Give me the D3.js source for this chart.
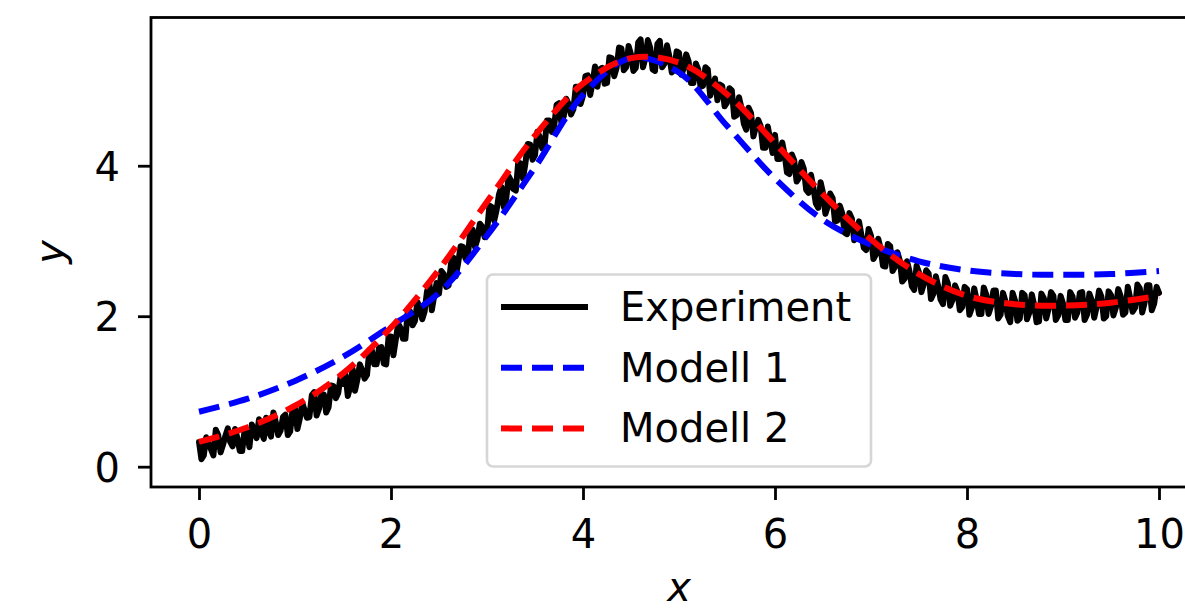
<!DOCTYPE html>
<html lang="en">
<head>
    <meta charset="UTF-8">
    <title>Experiment vs. Modell</title>
    <script src="https://cdn.jsdelivr.net/npm/d3@7"></script>
    <style>
        body {
            margin: 0;
            background: #ffffff;
        }
        svg {
            display: block;
            font-family: 'DejaVu Sans', sans-serif;
        }
    </style>
</head>
<body>
<div id="chart"></div>

<script>
  // sample grid of the measurement: 0 .. 10 in steps of 0.025
  const expStep = 0.025;

  const experimentY = [
    0.33, 0.10, 0.15, 0.39, 0.31, 0.23, 0.15, 0.49, 0.42, 0.19, 0.29, 0.41, 0.51, 0.33, 0.27, 0.50, 0.38, 0.21, 0.21, 0.49,
    0.46, 0.26, 0.56, 0.49, 0.38, 0.63, 0.46, 0.37, 0.65, 0.47, 0.40, 0.72, 0.59, 0.42, 0.48, 0.66, 0.69, 0.42, 0.47, 0.77,
    0.77, 0.50, 0.64, 0.85, 0.75, 0.65, 0.66, 0.95, 0.99, 0.68, 0.77, 0.96, 0.96, 0.72, 0.79, 1.08, 1.07, 0.91, 0.98, 1.20,
    1.10, 1.23, 0.94, 1.06, 1.30, 1.01, 1.16, 1.36, 1.28, 1.17, 1.22, 1.55, 1.55, 1.36, 1.36, 1.58, 1.59, 1.37, 1.36, 1.73,
    1.73, 1.48, 1.69, 1.90, 1.84, 1.70, 1.70, 2.07, 2.06, 1.88, 1.94, 2.19, 2.12, 1.96, 2.06, 2.33, 2.43, 2.08, 2.27, 2.44,
    2.30, 2.60, 2.56, 2.39, 2.41, 2.70, 2.78, 2.53, 2.71, 2.93, 2.92, 2.77, 2.78, 3.13, 3.15, 2.92, 3.02, 3.23, 3.19, 3.05,
    3.11, 3.47, 3.45, 3.27, 3.41, 3.62, 3.72, 3.45, 3.56, 3.86, 3.80, 3.69, 3.67, 4.04, 4.03, 3.83, 4.03, 4.29, 4.28, 4.08,
    4.14, 4.45, 4.38, 4.23, 4.28, 4.60, 4.60, 4.45, 4.53, 4.81, 4.83, 4.57, 4.66, 4.89, 4.82, 4.68, 4.75, 5.05, 5.05, 4.82,
    4.93, 5.19, 5.20, 4.94, 5.10, 5.32, 5.05, 5.28, 5.30, 5.09, 5.10, 5.44, 5.43, 5.19, 5.30, 5.57, 5.56, 5.27, 5.31, 5.59,
    5.48, 5.26, 5.30, 5.64, 5.68, 5.31, 5.43, 5.67, 5.57, 5.28, 5.26, 5.62, 5.66, 5.31, 5.36, 5.60, 5.45, 5.24, 5.27, 5.52,
    5.50, 5.21, 5.30, 5.48, 5.39, 5.10, 5.10, 5.36, 5.28, 5.05, 5.06, 5.31, 5.28, 4.93, 5.04, 5.16, 4.87, 5.08, 5.06, 4.79,
    4.84, 5.03, 5.00, 4.65, 4.67, 4.91, 4.77, 4.56, 4.48, 4.77, 4.70, 4.39, 4.51, 4.61, 4.53, 4.24, 4.24, 4.52, 4.35, 4.17,
    4.41, 4.09, 4.09, 4.31, 4.15, 3.91, 3.89, 4.15, 4.07, 3.79, 3.84, 4.05, 3.96, 3.68, 3.64, 3.88, 3.71, 3.50, 3.44, 3.78,
    3.64, 3.36, 3.46, 3.63, 3.57, 3.26, 3.27, 3.47, 3.37, 3.11, 3.09, 3.37, 3.30, 3.01, 3.06, 3.26, 3.08, 2.91, 2.88, 3.16,
    3.07, 2.76, 2.82, 3.03, 2.90, 2.67, 2.66, 2.96, 2.93, 2.60, 2.66, 2.85, 2.74, 2.46, 2.50, 2.73, 2.60, 2.40, 2.35, 2.67,
    2.58, 2.32, 2.43, 2.61, 2.57, 2.23, 2.30, 2.53, 2.40, 2.22, 2.16, 2.52, 2.44, 2.14, 2.22, 2.41, 2.33, 2.08, 2.12, 2.39,
    2.36, 2.02, 2.11, 2.37, 2.22, 2.03, 2.03, 2.38, 2.29, 2.03, 2.13, 2.34, 2.34, 1.97, 2.02, 2.31, 2.20, 2.00, 1.92, 2.31,
    2.21, 1.94, 1.97, 2.31, 2.28, 1.96, 2.05, 2.29, 2.15, 1.92, 1.93, 2.30, 2.24, 1.97, 2.10, 2.32, 2.27, 1.95, 2.01, 2.27,
    2.17, 1.95, 1.95, 2.32, 2.26, 1.98, 2.05, 2.31, 2.32, 1.95, 2.02, 2.30, 2.21, 1.98, 2.12, 2.34, 2.26, 1.97, 2.00, 2.33,
    2.28, 2.01, 2.11, 2.36, 2.27, 2.02, 2.05, 2.39, 2.24, 2.06, 2.11, 2.42, 2.37, 2.05, 2.18, 2.41, 2.41, 2.08, 2.17, 2.39,
    2.31
  ];

  // model curves, sampled every 0.5
  const modelX = [0, 0.5, 1, 1.5, 2, 2.5, 3, 3.5, 4, 4.5, 5, 5.5, 6, 6.5, 7, 7.5, 8, 8.5, 9, 9.5, 10];
  const modell1Y = [0.73, 0.90, 1.14, 1.46, 1.87, 2.31, 3.07, 3.98, 4.94, 5.43, 5.24, 4.53, 3.83, 3.28, 2.95, 2.73, 2.61, 2.56, 2.55, 2.56, 2.60];
  const modell2Y = [0.33, 0.52, 0.81, 1.24, 1.85, 2.62, 3.52, 4.40, 5.09, 5.43, 5.37, 4.95, 4.30, 3.62, 3.02, 2.56, 2.27, 2.16, 2.14, 2.18, 2.27];

  const xTicks = [0, 2, 4, 6, 8, 10];
  const yTicks = [0, 2, 4];

  const legendItems = [
    { label: "Experiment", color: "#000000", dash: null },
    { label: "Modell 1", color: "#0000ff", dash: "21,10" },
    { label: "Modell 2", color: "#ff0000", dash: "21,10" }
  ];

  const width = 1185, height = 613;
  const plot = { left: 151, right: 1207, top: 17.5, bottom: 487 };

  const svg = d3.select("#chart").append("svg")
    .attr("width", width)
    .attr("height", height);

  svg.append("rect").attr("width", width).attr("height", height).attr("fill", "#fff");

  const x = d3.scaleLinear().domain([-0.5, 10.5]).range([plot.left, plot.right]);
  const y = d3.scaleLinear().domain([-0.27, 5.97]).range([plot.bottom, plot.top]);

  svg.append("clipPath").attr("id", "plotClip")
    .append("rect")
    .attr("x", plot.left).attr("y", plot.top)
    .attr("width", plot.right - plot.left).attr("height", plot.bottom - plot.top);

  const lines = svg.append("g").attr("clip-path", "url(#plotClip)");

  const expPoints = experimentY.map((v, i) => [i * expStep, v]);
  const line = d3.line().x(d => x(d[0])).y(d => y(d[1]));
  const smooth = d3.line().x(d => x(d[0])).y(d => y(d[1])).curve(d3.curveCatmullRom);

  lines.append("path")
    .datum(expPoints)
    .attr("d", line)
    .attr("fill", "none")
    .attr("stroke", "#000")
    .attr("stroke-width", 6)
    .attr("stroke-linejoin", "round")
    .attr("stroke-linecap", "round");

  [[modell1Y, "#0000ff"], [modell2Y, "#ff0000"]].forEach(([vals, col]) => {
    lines.append("path")
      .datum(modelX.map((xv, i) => [xv, vals[i]]))
      .attr("d", smooth)
      .attr("fill", "none")
      .attr("stroke", col)
      .attr("stroke-width", 6)
      .attr("stroke-dasharray", "21,10");
  });

  // axes
  const xAxis = d3.axisBottom(x).tickValues(xTicks).tickSize(13).tickPadding(6).tickFormat(d3.format("d"));
  const yAxis = d3.axisLeft(y).tickValues(yTicks).tickSize(13).tickPadding(12).tickFormat(d3.format("d"));

  const gx = svg.append("g").attr("transform", `translate(0,${plot.bottom})`).call(xAxis);
  const gy = svg.append("g").attr("transform", `translate(${plot.left},0)`).call(yAxis);

  [gx, gy].forEach(g => {
    g.select(".domain").remove();
    g.selectAll(".tick line").attr("stroke", "#000").attr("stroke-width", 2.8);
    g.selectAll(".tick text")
      .attr("fill", "#000")
      .style("font-size", "40px")
      .style("font-family", "'DejaVu Sans', sans-serif");
  });
  gx.selectAll(".tick text").attr("dy", null).attr("y", 60.5);
  gy.selectAll(".tick text").attr("dy", "0.36em").attr("x", -31);

  // spines (right one lies outside the picture)
  svg.append("rect")
    .attr("x", plot.left).attr("y", plot.top)
    .attr("width", plot.right - plot.left).attr("height", plot.bottom - plot.top)
    .attr("fill", "none")
    .attr("stroke", "#000")
    .attr("stroke-width", 2.8);

  // axis labels
  svg.append("text")
    .attr("x", 679).attr("y", 601)
    .attr("text-anchor", "middle")
    .style("font-size", "40px")
    .style("font-style", "italic")
    .text("x");

  svg.append("text")
    .attr("transform", "translate(64,252) rotate(-90)")
    .attr("text-anchor", "middle")
    .style("font-size", "40px")
    .style("font-style", "italic")
    .text("y");

  // legend
  const legend = svg.append("g");
  legend.append("rect")
    .attr("x", 487).attr("y", 274.5)
    .attr("width", 384).attr("height", 192)
    .attr("rx", 6).attr("ry", 6)
    .attr("fill", "#fff").attr("fill-opacity", 0.8)
    .attr("stroke", "#d6d6d6").attr("stroke-width", 2.6);

  legendItems.forEach((d, i) => {
    const ry = 307 + i * 60.7;
    legend.append("line")
      .attr("x1", 501).attr("x2", 588)
      .attr("y1", ry).attr("y2", ry)
      .attr("stroke", d.color)
      .attr("stroke-width", 6)
      .attr("stroke-dasharray", d.dash);
    legend.append("text")
      .attr("x", 620).attr("y", ry + 14)
      .style("font-size", "40px")
      .text(d.label);
  });
</script>
</body>
</html>
